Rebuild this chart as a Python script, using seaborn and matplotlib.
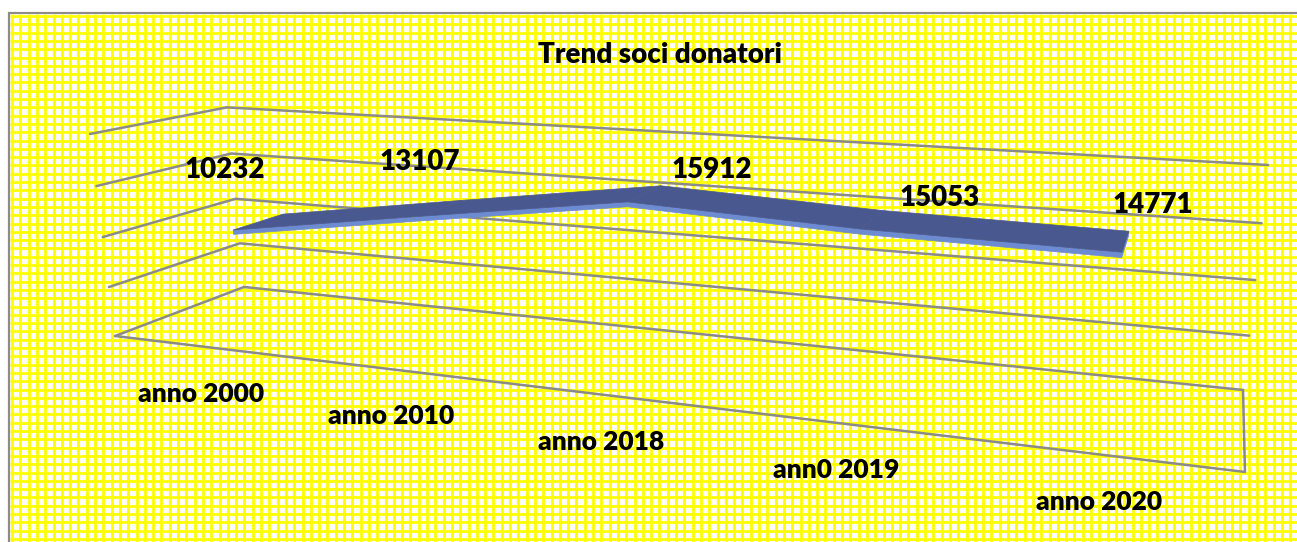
import matplotlib
matplotlib.use("Agg")
import matplotlib.pyplot as plt
import numpy as np
import pandas as pd
import seaborn as sns
from matplotlib.patches import Polygon, Rectangle

# data
anni = ["anno 2000", "anno 2010", "anno 2018", "ann0 2019", "anno 2020"]
soci = [10232, 13107, 15912, 15053, 14771]
y_max = 20000
y_step = 5000

# label offsets in pixels (dx, dy), Excel placed them by hand-ish
lab_off = [(-34, -52), (-21, -46), (67, -24), (68, -22), (27, -36)]

# perspective camera fitted to the Excel 3D box (u = category, w = depth, h = value)
P = np.array([[833.3, 160.9, -28.6, 115.0],
              [23.5, -11.5, -207.4, 336.0],
              [-0.2383, 0.13065, -0.0402, 1.0]])


def proj(u, w, h):
    u, w, h = np.broadcast_arrays(np.asarray(u, float), np.asarray(w, float), np.asarray(h, float))
    v = P @ np.vstack([u.ravel(), w.ravel(), h.ravel(), np.ones(u.size)])
    return v[0] / v[2], v[1] / v[2]


sns.set_theme(style="white")
plt.rcParams['font.family'] = ['Lato', 'DejaVu Sans']

W, H = 1297, 542
fig = plt.figure(figsize=(W / 100, H / 100), dpi=100)
ax = fig.add_axes([0, 0, 1, 1])
ax.set_xlim(0, W)
ax.set_ylim(H, 0)
ax.axis("off")

# yellow grid background + border
ax.add_patch(Rectangle((9, 13), 2000, 2000, facecolor="white", edgecolor="#8c8c8c", lw=1.6, zorder=0))
gx = np.arange(12, W + 10, 8.3)
gy = np.arange(16, H + 10, 8.3)
ax.vlines(gx, 14, H + 5, colors="#ffff00", lw=2.0, zorder=0.5)
ax.hlines(gy, 10, W + 5, colors="#ffff00", lw=2.0, zorder=0.5)

# wall / floor lines of the 3D box
n = len(anni)
rows = []
levels = np.arange(0, y_max + 1, y_step) / y_max
for k, lv in enumerate(levels):
    xs, ys = proj([0, 0, 1], [0, 1, 1], [lv, lv, lv])
    for j in range(3):
        rows.append({"x": xs[j], "y": ys[j], "line": k, "o": j})
xs, ys = proj([0, 1, 1], [0, 0, 1], [0, 0, 0])
for j in range(3):
    rows.append({"x": xs[j], "y": ys[j], "line": 99, "o": j})
grid_df = pd.DataFrame(rows)
sns.lineplot(data=grid_df, x="x", y="y", units="line", estimator=None, sort=False,
             color="#8a8a8a", lw=1.8, ax=ax, zorder=2)

# ribbon
u = (np.arange(n) + 0.5) / n
h = np.array(soci) / y_max
w0, w1, t = 0.3, 0.7, 0.022
top_c = "#4a5890"
side_c = "#6d8bd0"
for i in range(n - 1):
    uu = [u[i], u[i + 1], u[i + 1], u[i]]
    fx, fy = proj(uu, [w0] * 4, [h[i], h[i + 1], h[i + 1] - t, h[i] - t])
    ax.add_patch(Polygon(np.column_stack([fx, fy]), closed=True, facecolor=side_c, edgecolor=side_c, lw=0.5, zorder=3))
    tx, ty = proj(uu, [w0, w0, w1, w1], [h[i], h[i + 1], h[i + 1], h[i]])
    ax.add_patch(Polygon(np.column_stack([tx, ty]), closed=True, facecolor=top_c, edgecolor=top_c, lw=0.5, zorder=4))
ex, ey = proj([u[-1]] * 4, [w0, w1, w1, w0], [h[-1], h[-1], h[-1] - t, h[-1] - t])
ax.add_patch(Polygon(np.column_stack([ex, ey]), closed=True, facecolor=side_c, edgecolor=side_c, lw=0.5, zorder=3.5))

# data labels
px, py = proj(u, np.full(n, 0.5), h)
for i in range(n):
    ax.text(px[i] + lab_off[i][0], py[i] + lab_off[i][1], str(soci[i]), ha="center", va="center",
            fontsize=20, fontweight="heavy", color="black", zorder=6)

# category labels under the front edge
cx, cy = proj(u, np.zeros(n), np.zeros(n))
for i in range(n):
    ax.text(cx[i] - 2, cy[i] + 47, anni[i], ha="center", va="center",
            fontsize=19, fontweight="heavy", color="black", zorder=6)

ax.text(660, 55, "Trend soci donatori", ha="center", va="center", fontsize=20,
        fontweight="heavy", color="black", zorder=6)

fig.savefig("out.png", dpi=100)
